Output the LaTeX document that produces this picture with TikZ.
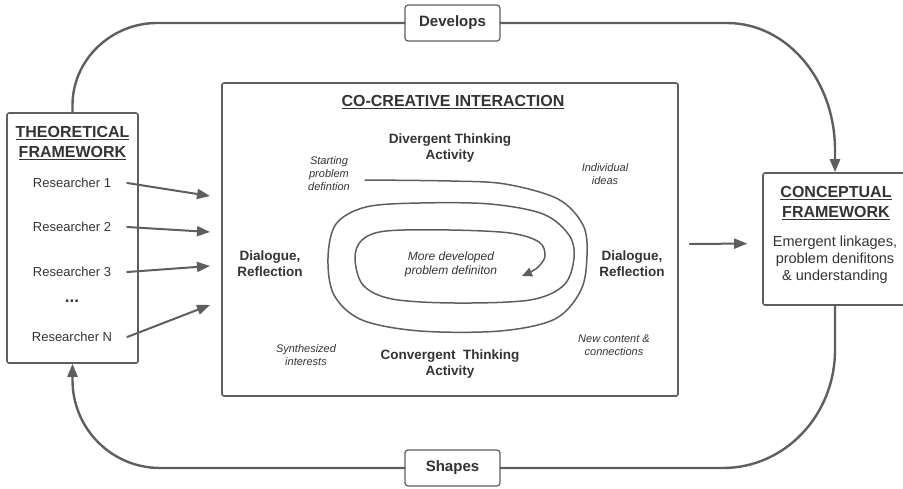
\documentclass[tikz,border=0pt]{standalone}
\usepackage{fontspec}
\setmainfont{Liberation Sans}
\usetikzlibrary{arrows.meta}
\newcommand{\thickul}[1]{\setbox0\hbox{#1}\leavevmode\rlap{\raisebox{-3pt}{\rule{\wd0}{1.3pt}}}\box0}
\definecolor{linegray}{HTML}{5E5E5E}
\definecolor{textgray}{HTML}{333333}
\tikzset{
  frame/.style={draw=linegray,line width=1.6pt,rounded corners=2pt,inner sep=0pt},
  tagbox/.style={draw=linegray,line width=1.2pt,rounded corners=3pt,fill=white,
    minimum width=95pt,minimum height=36pt,inner sep=0pt,
    font=\fontsize{15}{18}\selectfont\bfseries,text=textgray},
  heading/.style={font=\fontsize{16}{20}\selectfont\bfseries,text=textgray,align=center},
  researcher/.style={font=\fontsize{13}{15}\selectfont,text=textgray,minimum width=110pt,inner sep=0pt},
  phase/.style={font=\fontsize{13.5}{16}\selectfont\bfseries,text=textgray,align=center},
  note/.style={font=\fontsize{11}{13}\selectfont\itshape,text=textgray,align=center},
  body/.style={font=\fontsize{14.5}{17}\selectfont,text=textgray,align=center},
  tip/.style={-{Triangle[length=13pt,width=10pt]}},
  flow/.style={draw=linegray,line width=2pt,tip},
  loopline/.style={draw=linegray,line width=2.4pt},
  spiral/.style={draw=linegray,line width=1.5pt,-{Triangle[length=10pt,width=9pt]}}
}
\begin{document}
\begin{tikzpicture}[x=1pt,y=-1pt,line cap=round,line join=round]
  \clip (0,0) rectangle (903,488);
  % boxes
  \node[frame,minimum width=131pt,minimum height=250pt] (theo) at (72.5,238) {};
  \node[frame,minimum width=456pt,minimum height=313pt] (cc) at (450,239.5) {};
  \node[frame,minimum width=144pt,minimum height=132pt] (concept) at (835,239) {};
  \node[tagbox] (dev) at (452.5,23) {Develops};
  \node[tagbox] (shp) at (452.5,468) {Shapes};
  % theoretical framework
  \node[heading] (theotitle) at (72.5,143) {\thickul{THEORETICAL}\\\thickul{FRAMEWORK}};
  \node[researcher] (r1) at (72,183) {Researcher 1};
  \node[researcher] (r2) at (72,227) {Researcher 2};
  \node[researcher] (r3) at (72,272) {Researcher 3};
  \node[researcher,font=\fontsize{17}{19}\selectfont\bfseries] (rdots) at (72,301) {...};
  \node[researcher] (rn) at (72,337) {Researcher N};
  \coordinate (in1) at (210,196);
  \coordinate (in2) at (210,232);
  \coordinate (in3) at (210,266);
  \coordinate (in4) at (210,305);
  \draw[flow] (r1.east) -- (in1);
  \draw[flow] (r2.east) -- (in2);
  \draw[flow] (r3.east) -- (in3);
  \draw[flow] (rn.east) -- (in4);
  % co-creative interaction
  \node[heading] (cctitle) at (453,102) {\thickul{CO-CREATIVE INTERACTION}};
  \node[phase] (diverge) at (450,148) {Divergent Thinking\\Activity};
  \node[phase] (converge) at (450,364) {Convergent~ Thinking\\Activity};
  \node[phase] (dialeft) at (270,264) {Dialogue,\\Reflection};
  \node[phase] (diaright) at (632,264) {Dialogue,\\Reflection};
  \node[note] (start) at (329,174) {Starting\\problem\\defintion};
  \node[note] (ideas) at (605,174) {Individual\\ideas};
  \node[note] (synth) at (306,355) {Synthesized\\interests};
  \node[note] (newc) at (614,345) {New content \&\\connections};
  \node[note,font=\fontsize{12}{14}\selectfont\itshape] (moredev) at (451,264) {More developed\\problem definiton};
  \draw[spiral] plot[smooth,tension=0.55] coordinates {(365,180) (450,181) (505,184) (558,199) (583,225)
    (587,255) (581,290) (555,319) (500,331) (420,331) (362,320) (334,295) (328,258) (336,224)
    (366,207) (420,203) (490,204) (543,214) (569,235) (574,258) (564,285) (530,300) (455,303)
    (392,299) (363,285) (355,258) (362,240) (386,231) (450,230) (510,233) (539,242) (545,256)
    (537,268) (522,276)};
  % conceptual framework
  \node[heading] (concepttitle) at (836,203) {\thickul{CONCEPTUAL}\\\thickul{FRAMEWORK}};
  \node[body] (emerge) at (835,260) {Emergent linkages,\\problem denifitons\\\& understanding};
  \draw[flow,shorten <=11pt,shorten >=15pt] ([yshift=-4.5pt]cc.east) -- ([yshift=-4.5pt]concept.west);
  % outer loop
  \draw[loopline] (theo.north) -- (72.5,105) .. controls (72.5,60) and (111,23) .. (157,23) -- (dev.west);
  \draw[loopline,tip] (dev.east) -- (727,23) .. controls (787,23) and (835,80) .. (835,150) -- (concept.north);
  \draw[loopline] (concept.south) -- (835,350) .. controls (835,415) and (785,468) .. (723,468) -- (shp.east);
  \draw[loopline,tip] (shp.west) -- (160,468) .. controls (112,468) and (72.5,429) .. (72.5,380) -- (theo.south);
\end{tikzpicture}
\end{document}
